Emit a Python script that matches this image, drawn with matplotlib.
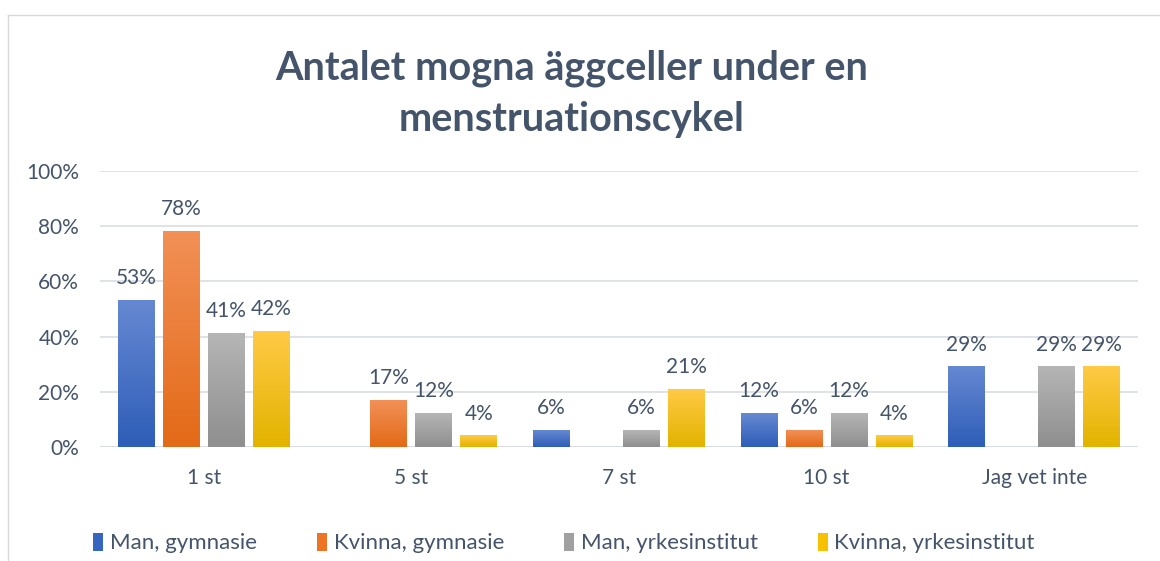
import matplotlib.pyplot as plt
import numpy as np
from matplotlib.colors import LinearSegmentedColormap
from matplotlib.patches import Patch
from matplotlib.lines import Line2D

categories = ['1 st', '5 st', '7 st', '10 st', 'Jag vet inte']
series_names = ['Man, gymnasie', 'Kvinna, gymnasie', 'Man, yrkesinstitut', 'Kvinna, yrkesinstitut']
man_gymnasie = [53, 0, 6, 12, 29]
kvinna_gymnasie = [78, 17, 0, 6, 0]
man_yrkes = [41, 12, 6, 12, 29]
kvinna_yrkes = [42, 4, 21, 4, 29]
all_series = [man_gymnasie, kvinna_gymnasie, man_yrkes, kvinna_yrkes]

# (top colour, bottom colour) for the gradient fill
grad = [('#6688d2', '#2e5eb8'), ('#f29057', '#e36a17'),
        ('#b5b5b5', '#8f8f8f'), ('#ffca45', '#e3b300')]
solid = ['#3766c0', '#ec7424', '#a0a0a0', '#f7c000']
txt = '#44546a'

plt.rcParams['font.family'] = ['Lato', 'DejaVu Sans']

fig = plt.figure(figsize=(11.6, 5.61), dpi=100)
ax = fig.add_axes([100/1160, 1-447/561, 1038/1160, 276/561])

x = np.arange(len(categories))
bw = 0.178
step = 0.217
offsets = (np.arange(4) - 1.5) * step
img = np.linspace(0, 1, 64).reshape(-1, 1)

for i, vals in enumerate(all_series):
    cmap = LinearSegmentedColormap.from_list('g%d' % i, [grad[i][1], grad[i][0]])
    for j, v in enumerate(vals):
        if v == 0:
            continue
        h = v / 100
        x0 = x[j] + offsets[i] - bw/2
        ax.imshow(img, extent=(x0, x0+bw, 0, h), origin='lower', cmap=cmap,
                  vmin=0, vmax=1, aspect='auto', zorder=3)
        ax.text(x[j] + offsets[i], h + 0.045, '%d%%' % v, ha='center', va='bottom',
                fontsize=15, color=txt)

ax.set_xlim(-0.5, 4.5)
ax.set_ylim(0, 1)
ax.set_yticks(np.arange(0, 1.01, 0.2))
ax.set_yticklabels(['%d%%' % t for t in range(0, 101, 20)], fontsize=15, color=txt)
ax.set_xticks(x)
ax.set_xticklabels(categories, fontsize=15, color=txt)
ax.tick_params(length=0, pad=15, axis='y')
ax.tick_params(length=0, pad=15, axis='x')
ax.grid(axis='y', color='#d9dde3', lw=1.2, zorder=0)
for s in ax.spines.values():
    s.set_visible(False)
ax.axhline(0, color='#d9dde3', lw=1.5, zorder=1)

fig.text(572/1160, 1-68/561, 'Antalet mogna äggceller under en', ha='center', va='center',
         fontsize=28.5, fontweight='bold', color=txt)
fig.text(572/1160, 1-120/561, 'menstruationscykel', ha='center', va='center',
         fontsize=28.5, fontweight='bold', color=txt)

handles = [Patch(facecolor=c) for c in solid]
fig.legend(handles, series_names, loc='center', bbox_to_anchor=(564/1160, 1-543/561), ncol=4,
           frameon=False, fontsize=16, labelcolor=txt, handlelength=0.45, handleheight=0.9,
           handletextpad=0.3, columnspacing=2.7)

# outer chart frame
fig.add_artist(Line2D([8/1160, 8/1160], [0, 1-15/561], color='#d9d9d9', lw=1))
fig.add_artist(Line2D([8/1160, 1], [1-15/561, 1-15/561], color='#d9d9d9', lw=1))

fig.savefig('out.png', dpi=100)
